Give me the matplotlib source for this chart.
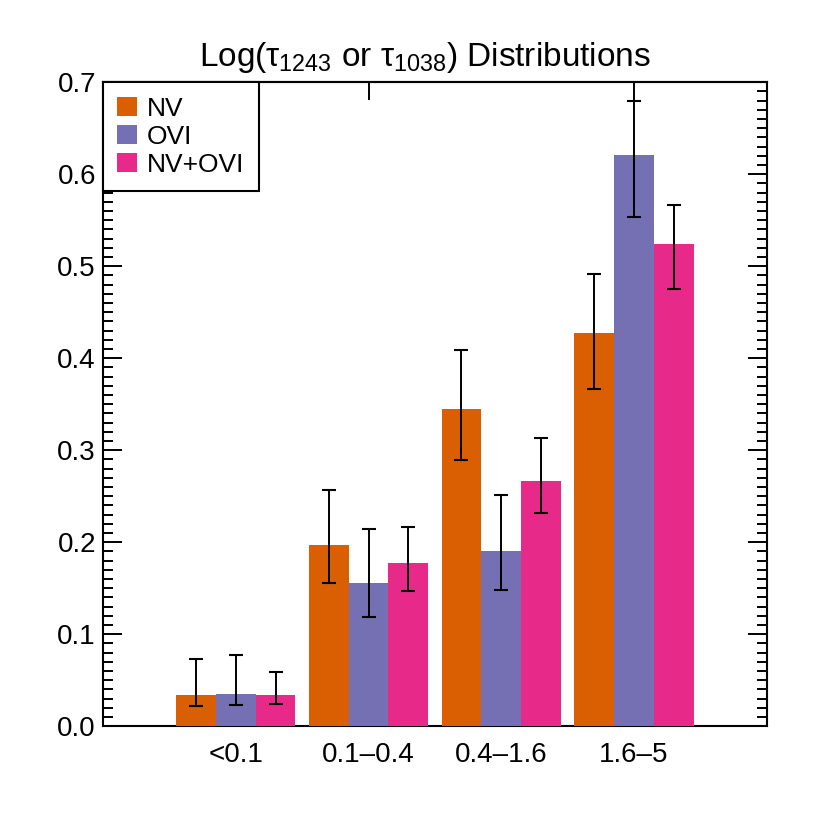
import numpy as np
import matplotlib
matplotlib.use("Agg")
import matplotlib.pyplot as plt
from matplotlib.ticker import MultipleLocator

plt.rcParams['font.family'] = ['Liberation Sans', 'DejaVu Sans']
plt.rcParams['mathtext.fontset'] = 'custom'
plt.rcParams['mathtext.rm'] = 'Liberation Sans'
plt.rcParams['mathtext.it'] = 'Liberation Sans'

# bins and values
bins = ['<0.1', '0.1\u20130.4', '0.4\u20131.6', '1.6\u20135']
series = ['NV', 'OVI', 'NV+OVI']

nv = [0.034, 0.1975, 0.345, 0.427]
nv_hi = [0.073, 0.257, 0.409, 0.491]
nv_lo = [0.022, 0.156, 0.289, 0.366]

ovi = [0.035, 0.156, 0.190, 0.621]
ovi_hi = [0.077, 0.214, 0.251, 0.679]
ovi_lo = [0.023, 0.119, 0.148, 0.554]

both = [0.034, 0.177, 0.267, 0.524]
both_hi = [0.059, 0.217, 0.313, 0.566]
both_lo = [0.024, 0.147, 0.232, 0.475]

colors = ['#D95F02', '#7570B3', '#E7298A']

fig = plt.figure(figsize=(8.3, 8.3), dpi=100)
ax = fig.add_axes([0.124, 0.125, 0.8, 0.776])

x = np.arange(1, len(bins) + 1)
w = 0.3
vals = [nv, ovi, both]
his = [nv_hi, ovi_hi, both_hi]
los = [nv_lo, ovi_lo, both_lo]
for k in range(3):
    v = np.array(vals[k])
    yerr = [v - np.array(los[k]), np.array(his[k]) - v]
    ax.bar(x + (k - 1) * w, v, width=w, color=colors[k], label=series[k], zorder=3)
    ax.errorbar(x + (k - 1) * w, v, yerr=yerr, fmt='none', ecolor='black',
                elinewidth=1.4, capsize=4.7, capthick=1.5, zorder=4)

ax.set_xlim(0, 5)
ax.set_ylim(0, 0.7)
ax.set_xticks(x)
ax.set_xticklabels(bins, fontsize=20)
ax.tick_params(axis='x', bottom=False, length=0, pad=11)

ax.yaxis.set_major_locator(MultipleLocator(0.1))
ax.yaxis.set_minor_locator(MultipleLocator(0.01))
ax.yaxis.set_major_formatter(matplotlib.ticker.FormatStrFormatter('%.1f'))
ax.tick_params(axis='y', which='both', direction='in', left=True, right=True, labelsize=20, width=1.4)
ax.tick_params(axis='y', which='major', length=14, pad=5)
ax.tick_params(axis='y', which='minor', length=7)

top = ax.secondary_xaxis('top')
top.set_xticks([2, 4])
top.set_xticklabels([])
top.tick_params(direction='in', length=13, width=1.4)
top.spines['top'].set_linewidth(1.5)

for s in ax.spines.values():
    s.set_linewidth(1.5)

ax.set_title(r'Log($\tau_{1243}$ or $\tau_{1038}$) Distributions', fontsize=24, x=0.485, pad=12)

leg = ax.legend(loc='upper left', bbox_to_anchor=(0, 1), fontsize=19, frameon=True,
                fancybox=False, edgecolor='black', framealpha=1, handlelength=0.76,
                handleheight=0.76, handletextpad=0.35, borderaxespad=0, labelspacing=0.15,
                borderpad=0.55)
leg.get_frame().set_linewidth(1.5)
leg.set_zorder(10)

fig.savefig('out.png', dpi=100)
